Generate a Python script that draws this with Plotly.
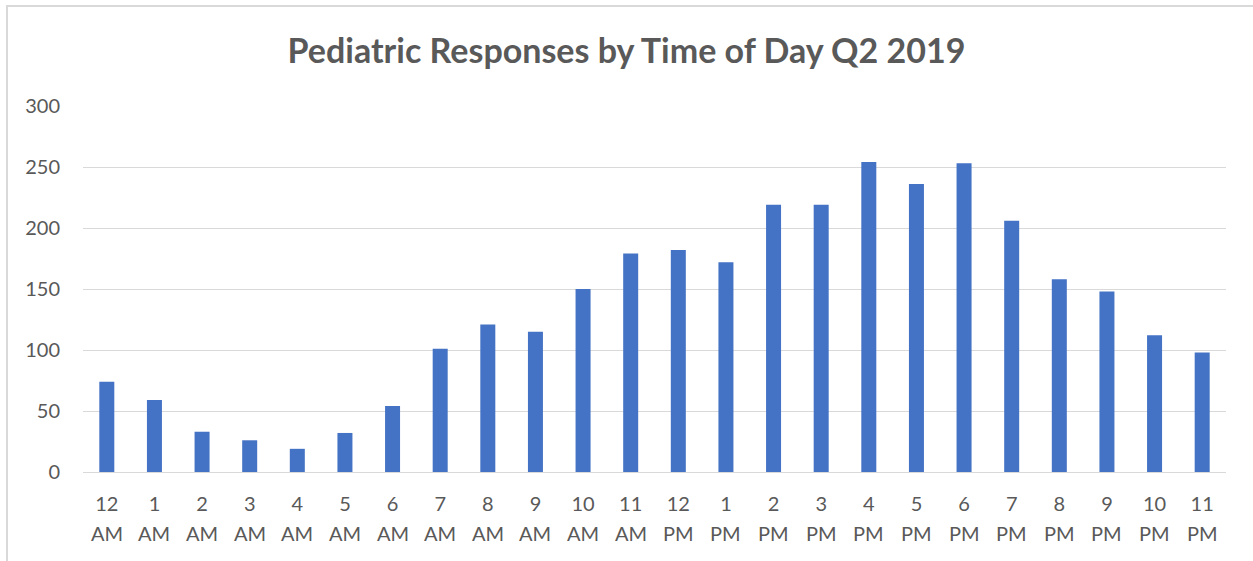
import plotly.graph_objects as go

hours = ["12", "1", "2", "3", "4", "5", "6", "7", "8", "9", "10", "11",
         "12", "1", "2", "3", "4", "5", "6", "7", "8", "9", "10", "11"]
periods = ["AM"] * 12 + ["PM"] * 12
categories = [f"{h} {p}" for h, p in zip(hours, periods)]
responses = [74, 59, 33, 26, 19, 32, 54, 101, 121, 115, 150, 179,
             182, 172, 219, 219, 254, 236, 253, 206, 158, 148, 112, 98]

fig = go.Figure(go.Bar(
    x=categories, y=responses,
    marker=dict(color="#4472C4", line=dict(width=0)),
))

L, R, T, B = 83, 27, 106, 89
W, H = 1253, 561
pw, ph = W - L - R, H - T - B
TXT = "#595959"
FS = 20

annotations = [
    dict(x=c, y=-61 / ph, xref="x", yref="paper", text=p, showarrow=False,
         xanchor="center", yanchor="middle", font=dict(size=FS, color=TXT))
    for c, p in zip(categories, periods)
]

fig.update_layout(
    width=W, height=H,
    margin=dict(l=L, r=R, t=T, b=B),
    paper_bgcolor="white", plot_bgcolor="white",
    bargap=0.685,
    showlegend=False,
    font=dict(family="Lato, Open Sans, sans-serif", size=FS, color=TXT),
    title=dict(text="<b>Pediatric Responses by Time of Day Q2 2019</b>",
               x=0.5, xanchor="center", y=1 - 51 / H, yanchor="middle",
               font=dict(size=34, color=TXT)),
    xaxis=dict(type="category", showgrid=False, showline=True,
               linecolor="#D9D9D9", linewidth=1, ticks="",
               tickmode="array", tickvals=categories, ticktext=hours,
               tickfont=dict(size=FS, color=TXT),
               ticklabelstandoff=14),
    yaxis=dict(range=[0, 300], dtick=50, showgrid=True, gridcolor="#D9D9D9",
               gridwidth=1, zeroline=False, showline=False, ticks="",
               tickfont=dict(size=FS, color=TXT),
               ticklabelstandoff=22),
    annotations=annotations,
    shapes=[dict(type="path", xref="paper", yref="paper",
                 path=f"M {(7 - L) / pw},{-(H + 20 - (T + ph)) / ph} "
                      f"L {(7 - L) / pw},{(T + ph - 6) / ph} "
                      f"L {(W + 20 - L) / pw},{(T + ph - 6) / ph}",
                 line=dict(color="#D9D9D9", width=2), layer="below")],
)

fig.write_html("out.html", config={"displayModeBar": False},
               post_script="document.body.style.margin='0';document.body.style.overflow='hidden';")
